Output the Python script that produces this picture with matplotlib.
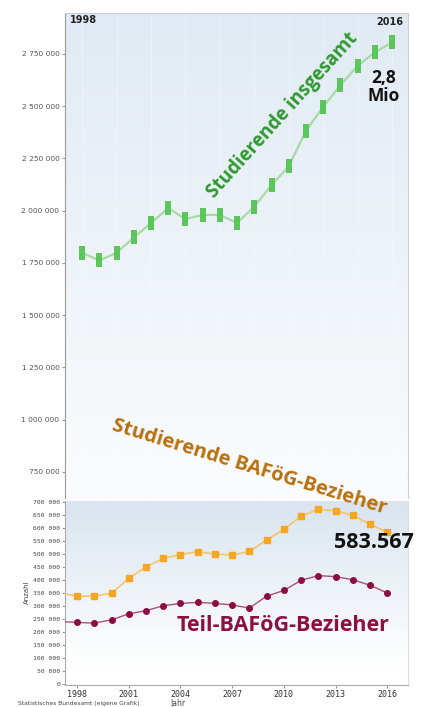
import matplotlib.pyplot as plt
import numpy as np
from matplotlib import font_manager

# ----------------------------------- Data -----------------------------------

years = list(range(1998, 2017))

# Studierende insgesamt
students_total = [1798000, 1762000, 1799000, 1872000, 1941000, 2013000, 1960000,
                  1980000, 1980000, 1941000, 2020000, 2123000, 2212000, 2382000,
                  2497000, 2600000, 2693000, 2758000, 2805000]

# the lower panel starts a bit before 1998, so 1997 is included (clipped)
bafoeg_years = list(range(1997, 2017))
bafoeg_full = [352000, 337000, 339000, 349000, 406000, 451000, 483000, 498000,
               509000, 500000, 496000, 510000, 554000, 595000, 646000, 672000,
               667000, 649000, 614000, 584000]
bafoeg_part = [240000, 237000, 234000, 247000, 270000, 282000, 301000, 310000,
               314000, 310000, 304000, 292000, 338000, 360000, 399000, 417000,
               413000, 401000, 380000, 350000]

top_ticks = [750000, 1000000, 1250000, 1500000, 1750000, 2000000, 2250000,
             2500000, 2750000]
bottom_ticks = list(range(0, 700001, 50000))
year_ticks = [1998, 2001, 2004, 2007, 2010, 2013, 2016]


def fmt(v):
    return f"{v:,}".replace(",", " ")


def gradient(ax, top_col, bottom_col, stop=1.0):
    # vertical colour gradient as axes background
    n = 256
    t = np.linspace(0, 1, n)[:, None]
    t = np.clip(t / stop, 0, 1)
    c0 = np.array(plt.matplotlib.colors.to_rgb(top_col))
    c1 = np.array(plt.matplotlib.colors.to_rgb(bottom_col))
    img = c0 * (1 - t[..., None]) + c1 * t[..., None]
    img = np.repeat(img, 2, axis=1)
    ax.imshow(img, extent=(0, 1, 0, 1), transform=ax.transAxes,
              aspect="auto", zorder=0)


# condensed font for the upper tick labels if there is one
installed = {f.name for f in font_manager.fontManager.ttflist}
if "Liberation Sans Narrow" in installed:
    narrow_font, narrow_size = "Liberation Sans Narrow", 6.8
else:
    narrow_font, narrow_size = "DejaVu Sans", 5.4

fig = plt.figure(figsize=(4.30, 7.07), dpi=100)

# ------------------------------- Upper panel --------------------------------

W, H = 430, 707
ax1 = fig.add_axes([65 / W, 1 - 500 / H, 343 / W, 487 / H])
gradient(ax1, "#e1eaf4", "#f9fbfc", stop=0.95)

rect = [(-0.2, -0.5), (0.2, -0.5), (0.2, 0.5), (-0.2, 0.5), (-0.2, -0.5)]
ax1.plot(years, students_total, color="#a6dba6", lw=1.6, zorder=3)
ax1.plot(years, students_total, ls="none", marker=rect, ms=10, mew=0,
         color="#5cc65c", zorder=4)

ax1.set_xlim(1997.0, 2016.93)
ax1.set_ylim(616000, 2946000)
ax1.set_yticks(top_ticks)
ax1.set_yticklabels([fmt(v) for v in top_ticks], color="#555555",
                    fontsize=narrow_size, family=narrow_font)
ax1.set_xticks([])
ax1.tick_params(axis="y", length=2, color="#999999", pad=2)
for x in range(1998, 2017, 2):
    ax1.axvline(x, color="white", lw=0.6, alpha=0.35, zorder=1)
for s in ["top", "right"]:
    ax1.spines[s].set_color("#cccccc")
ax1.spines["left"].set_color("#999999")
ax1.spines["bottom"].set_visible(False)

ax1.text(0.015, 0.995, "1998", transform=ax1.transAxes, ha="left", va="top",
         fontsize=7, fontweight="bold", color="#222222")
ax1.text(0.985, 0.992, "2016", transform=ax1.transAxes, ha="right", va="top",
         fontsize=7, fontweight="bold", color="#222222")
ax1.text(2015.5, 2592000, "2,8\nMio", ha="center", va="center", fontsize=12.5,
         fontweight="bold", color="#111111", linespacing=0.95,
         family="Open Sans", zorder=6)
ax1.text(2009.65, 2455000, "Studierende insgesamt", rotation=48,
         rotation_mode="anchor", ha="center", va="center", fontsize=13.5,
         fontweight="bold", color="#2e9a2e", family="Open Sans", zorder=6)

# ------------------------------- Lower panel --------------------------------

ax2 = fig.add_axes([65 / W, 1 - 685 / H, 343 / W, 185 / H])
gradient(ax2, "#d9e4ef", "#ffffff", stop=0.9)

ax2.plot(bafoeg_years, bafoeg_full, color="#f5c46e", lw=1.2, zorder=3)
ax2.plot(bafoeg_years, bafoeg_full, ls="none", marker="s", ms=4.2,
         color="#f5a623", zorder=4)
ax2.plot(bafoeg_years, bafoeg_part, color="#a8507a", lw=1.0, zorder=3)
ax2.plot(bafoeg_years, bafoeg_part, ls="none", marker="o", ms=4,
         color="#8c0c44", zorder=4)

ax2.set_xlim(1997.3, 2017.2)
ax2.set_ylim(-4000, 708000)
ax2.set_yticks(bottom_ticks)
ax2.set_yticklabels([fmt(v) for v in bottom_ticks], fontsize=4.6,
                    color="#444444", family="DejaVu Sans Mono")
ax2.set_xticks(year_ticks)
ax2.set_xticklabels([str(y) for y in year_ticks], fontsize=6,
                    color="#333333", family="DejaVu Sans Mono")
ax2.tick_params(axis="both", length=2, color="#999999", pad=1.5)
ax2.set_ylabel("Anzahl", fontsize=5, color="#444444", labelpad=2)
ax2.spines["top"].set_color("white")
ax2.spines["top"].set_linewidth(1.5)
ax2.spines["right"].set_color("#dddddd")
for s in ["left", "bottom"]:
    ax2.spines[s].set_color("#aaaaaa")

ax2.text(2015.2, 546000, "583.567", ha="center", va="center", fontsize=15.5,
         fontweight="bold", color="#111111", family="Open Sans", zorder=6)
ax2.text(2009.95, 226000, "Teil-BAFöG-Bezieher", ha="center", va="center",
         fontsize=15.5, fontweight="bold", color="#8c1040",
         family="Open Sans", zorder=6)

# --------------------------- Texts over both panels --------------------------

fig.text(249 / W, 1 - 467 / H, "Studierende BAFöG-Bezieher", rotation=-17,
         ha="center", va="center", fontsize=14.5, fontweight="bold",
         color="#b87010", family="Open Sans", zorder=10)
fig.text(18 / W, 1 - 703 / H, "Statistisches Bundesamt (eigene Grafik)",
         ha="left", va="center", fontsize=4.3, color="#444444")
fig.text(170 / W, 1 - 704 / H, "Jahr", ha="left", va="center", fontsize=5.5,
         color="#444444")

fig.savefig("out.png", dpi=100)
